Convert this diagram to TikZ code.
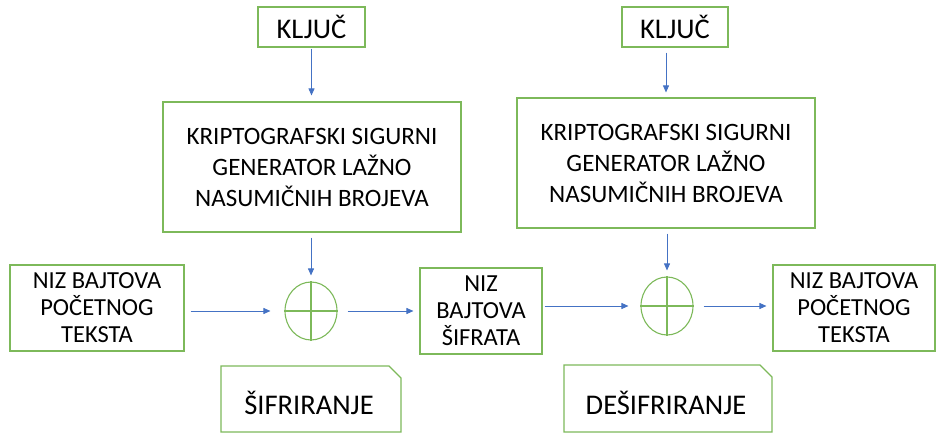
\documentclass[tikz,border=0pt]{standalone}
\usepackage{fontspec}
\setmainfont{Carlito}
\usetikzlibrary{arrows.meta,shapes.geometric}
\definecolor{boxgreen}{HTML}{7DB95A}
\definecolor{arrblue}{HTML}{4472C4}
\begin{document}
\begin{tikzpicture}[x=1pt,y=-1pt,
  gbox/.style={draw=boxgreen,line width=1.1pt,align=center,inner sep=0pt},
  arr/.style={draw=arrblue,line width=0.8pt,-{Triangle[length=7pt,width=6pt]}},
  huge/.style={font=\fontsize{28.5}{32}\selectfont},
  big/.style={font=\fontsize{25}{31}\selectfont},
  mid/.style={font=\fontsize{24.5}{27}\selectfont}]
\useasboundingbox (0,0) rectangle (938,433);
% key boxes
\node[gbox,huge,minimum width=107pt,minimum height=40pt] (k1) at (311.5,27) {KLJUČ};
\node[gbox,huge,minimum width=106pt,minimum height=40pt] (k2) at (675,27) {KLJUČ};
% generators
\node[gbox,big,minimum width=298pt,minimum height=130pt] (g1) at (312,167) {KRIPTOGRAFSKI SIGURNI\\GENERATOR LAŽNO\\NASUMIČNIH BROJEVA};
\node[gbox,big,minimum width=298pt,minimum height=130pt] (g2) at (666,163) {KRIPTOGRAFSKI SIGURNI\\GENERATOR LAŽNO\\NASUMIČNIH BROJEVA};
% xor circles
\node[draw=boxgreen,line width=1.1pt,ellipse,minimum width=52pt,minimum height=58pt,inner sep=0pt] (c1) at (311,311) {};
\node[draw=boxgreen,line width=1.1pt,ellipse,minimum width=52pt,minimum height=58pt,inner sep=0pt] (c2) at (667,306) {};
\draw[boxgreen,line width=1.1pt] (c1.north) -- (c1.south) (c1.west) -- (c1.east);
\draw[boxgreen,line width=1.1pt] (c2.north) -- (c2.south) (c2.west) -- (c2.east);
% data boxes
\node[gbox,mid,minimum width=174pt,minimum height=86pt] (in) at (97,308) {NIZ BAJTOVA\\POČETNOG\\TEKSTA};
\node[gbox,mid,minimum width=122pt,minimum height=86pt] (ct) at (481,311) {NIZ\\BAJTOVA\\ŠIFRATA};
\node[gbox,mid,minimum width=162pt,minimum height=86pt] (out) at (854,308) {NIZ BAJTOVA\\POČETNOG\\TEKSTA};
% labels with snipped corner
\draw[boxgreen,line width=1.1pt] (221,366) -- (389,366) -- (401,378) -- (401,432) -- (221,432) -- cycle;
\node[huge,anchor=center] (l1) at (309,403) {ŠIFRIRANJE};
\draw[boxgreen,line width=1.1pt] (564,365) -- (760,365) -- (772,377) -- (772,432) -- (564,432) -- cycle;
\node[huge,anchor=center] (l2) at (666,403) {DEŠIFRIRANJE};
% arrows
\draw[arr] ([yshift=-1pt]k1.south) -- ([yshift=6pt]k1.south |- g1.north);
\draw[arr] ([yshift=-5pt]k2.south -| g2.north) -- ([yshift=5pt]g2.north);
\draw[arr] ([yshift=-5pt]g1.south -| c1.north) -- ([yshift=6pt]c1.north);
\draw[arr] ([yshift=-5pt]g2.south -| c2.north) -- ([yshift=6pt]c2.north);
\draw[arr] ([xshift=6pt]in.east |- c1.west) -- ([xshift=-14pt]c1.west);
\draw[arr] ([xshift=10pt]c1.east) -- ([xshift=-6pt]ct.west |- c1.east);
\draw[arr] ([xshift=2pt]ct.east |- c2.west) -- ([xshift=-12pt]c2.west);
\draw[arr] ([xshift=10pt]c2.east) -- ([xshift=-6pt]out.west |- c2.east);
\end{tikzpicture}
\end{document}
